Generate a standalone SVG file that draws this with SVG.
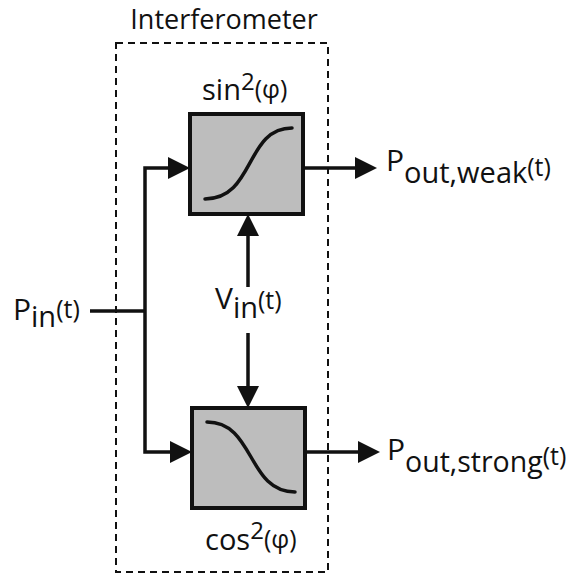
<svg xmlns="http://www.w3.org/2000/svg" width="572" height="579" viewBox="0 0 572 579">
<style>
text{font-family:"Open Sans","Noto Sans","DejaVu Sans",sans-serif;fill:#111}
.ln{stroke:#111;stroke-width:3.5;fill:none}
.box{fill:#bdbdbd;stroke:#111;stroke-width:4}
.cv{stroke:#111;stroke-width:3.5;fill:none;stroke-linecap:round}
.ah{fill:#111}
</style>
<rect width="572" height="579" fill="#fff"/>
<g id="interferometer">
<rect x="116" y="43" width="212" height="529" fill="none" stroke="#111" stroke-width="2" stroke-dasharray="7,5"/>
<text x="224" y="29" font-size="27" text-anchor="middle">Interferometer</text>
</g>
<g id="sin-box">
<rect class="box" x="190" y="114" width="113" height="100"/>
<path class="cv" d="M205,199 C255,199 245,128 292,128"/>
<text x="202" y="100" font-size="29">sin<tspan font-size="24" dy="-10">2</tspan><tspan font-size="25" dy="8">(φ)</tspan></text>
</g>
<g id="cos-box">
<rect class="box" x="192" y="408" width="113" height="100"/>
<path class="cv" d="M207,422 C255,422 247,492 295,492"/>
<text x="205" y="550" font-size="29">cos<tspan font-size="24" dy="-11">2</tspan><tspan font-size="25" dy="9">(φ)</tspan></text>
</g>
<g id="pin">
<text x="13" y="320" font-size="30">P<tspan font-size="29" dy="7">in</tspan><tspan font-size="25" dy="-9">(t)</tspan></text>
</g>
<g id="vin">
<text x="215" y="309" font-size="30">V<tspan font-size="29" dy="9">in</tspan><tspan font-size="25" dy="-9">(t)</tspan></text>
</g>
<g id="pout-weak">
<text x="386" y="171" font-size="30">P<tspan font-size="29" dy="12">out,weak</tspan><tspan font-size="25" dy="-7">(t)</tspan></text>
</g>
<g id="pout-strong">
<text x="387" y="460" font-size="30">P<tspan font-size="28.5" dy="12">out,strong</tspan><tspan font-size="25" dy="-7">(t)</tspan></text>
</g>
<g id="connectors">
<path class="ln" d="M90,311 H145 M145,166.3 V453.7 M143.3,168 H170 M143.3,452 H172"/>
<polygon class="ah" points="168,157 190,168 168,179"/>
<polygon class="ah" points="170,441 192,452 170,463"/>
<path class="ln" d="M303,168 H357 M305,452 H360"/>
<polygon class="ah" points="355,157 377,168 355,179"/>
<polygon class="ah" points="358,441 380,452 358,463"/>
<path class="ln" d="M248,287 V234 M248,333 V388"/>
<polygon class="ah" points="237,236 248,214 259,236"/>
<polygon class="ah" points="237,386 248,408 259,386"/>
</g>
</svg>
